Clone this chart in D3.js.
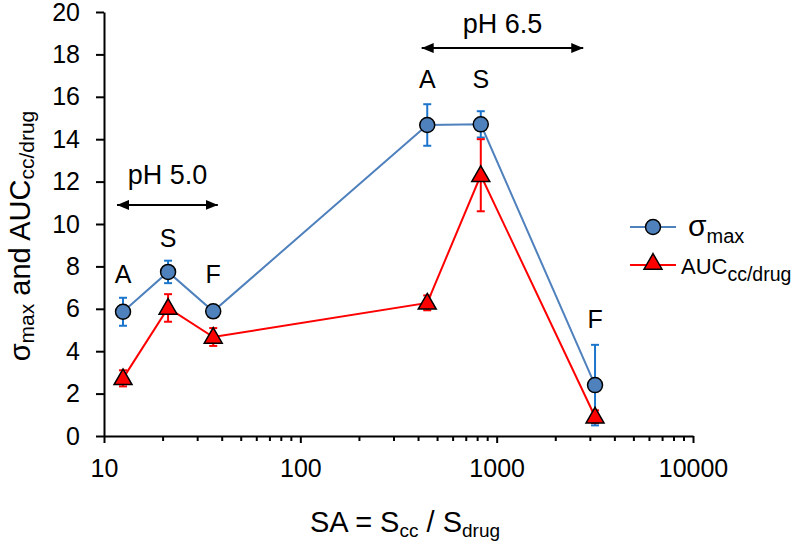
<!DOCTYPE html>
<html>
<head>
<meta charset="utf-8">
<script src="https://cdn.jsdelivr.net/npm/d3@7"></script>
<style>
  body { margin: 0; background: #fff; }
  text { font-family: "Liberation Sans", Arial, sans-serif; fill: #000; }
</style>
</head>
<body>
<div id="chart"></div>
<script>
// surface-area ratio (x) and the two measured series
const sa = [12.5, 21.2, 36, 443, 830, 3170];
const labels = ["A", "S", "F", "A", "S", "F"];
const sigmaMax = [5.86, 7.74, 5.88, 14.67, 14.7, 2.4];
const sigmaErr = [0.66, 0.53, 0, 0.98, 0.62, 1.9];
const auc = [2.72, 6.04, 4.67, 6.28, 12.3, 0.91];
const aucErr = [0.38, 0.65, 0.42, 0.35, 1.7, 0.3];
const yTicks = [0, 2, 4, 6, 8, 10, 12, 14, 16, 18, 20];
const xTicks = [10, 100, 1000, 10000];
const phRanges = [
  {label: "pH 5.0", from: 11.65, to: 38, y: 10.9, textY: 11.9},
  {label: "pH 6.5", from: 415, to: 2760, y: 18.3, textY: 19.0}
];

const width = 800, height = 552;
const blue = "#4F81BD", blueErr = "#1C75CC", red = "#FF0000";

const svg = d3.select("#chart").append("svg")
    .attr("width", width)
    .attr("height", height);

const x = d3.scaleLog().domain([10, 10000]).range([104, 693]);
const y = d3.scaleLinear().domain([0, 20]).range([436, 12]);

// arrow marker defs
const defs = svg.append("defs");
["start", "end"].forEach(function(k) {
    defs.append("marker")
        .attr("id", "arr-" + k)
        .attr("viewBox", "0 0 12 10")
        .attr("refX", k === "end" ? 12 : 0)
        .attr("refY", 5)
        .attr("markerWidth", 12)
        .attr("markerHeight", 10)
        .attr("markerUnits", "userSpaceOnUse")
        .attr("orient", "auto")
        .append("path")
        .attr("d", k === "end" ? "M0,0 L12,5 L0,10 Z" : "M12,0 L0,5 L12,10 Z")
        .attr("fill", "#000");
});

// y axis
const yAxis = svg.append("g")
    .attr("transform", "translate(104,0)")
    .call(d3.axisLeft(y).tickValues(yTicks).tickSize(8).tickPadding(16).tickSizeOuter(0));
yAxis.selectAll("text").style("font-size", "25px");

// x axis, with minor ticks
const xAxis = svg.append("g")
    .attr("transform", "translate(0,436)")
    .call(d3.axisBottom(x).tickValues(xTicks).tickFormat(d3.format("d"))
        .tickSize(7).tickPadding(16).tickSizeOuter(0));
xAxis.selectAll("text").style("font-size", "25px");
const minor = [];
[10, 100, 1000].forEach(function(d) {
    for (let i = 2; i <= 9; i++) minor.push(d * i);
});
xAxis.selectAll(".minor").data(minor).enter().append("line")
    .attr("class", "minor")
    .attr("x1", d => x(d)).attr("x2", d => x(d))
    .attr("y1", 0).attr("y2", 5)
    .attr("stroke", "#000");
svg.selectAll(".domain, .tick line, .minor").attr("stroke-width", 2);

// series lines
const line = d3.line().x((d, i) => x(sa[i])).y(d => y(d));
svg.append("path").datum(sigmaMax)
    .attr("d", line).attr("fill", "none")
    .attr("stroke", blue).attr("stroke-width", 2);
svg.append("path").datum(auc)
    .attr("d", line).attr("fill", "none")
    .attr("stroke", red).attr("stroke-width", 2);

function errorBars(vals, errs, color) {
    const g = svg.append("g").attr("stroke", color).attr("stroke-width", 2);
    vals.forEach(function(v, i) {
        if (!errs[i]) return;
        const cx = x(sa[i]);
        g.append("line").attr("x1", cx).attr("x2", cx)
            .attr("y1", y(v - errs[i])).attr("y2", y(v + errs[i]));
        [v - errs[i], v + errs[i]].forEach(function(e) {
            g.append("line").attr("x1", cx - 4).attr("x2", cx + 4)
                .attr("y1", y(e)).attr("y2", y(e));
        });
    });
}
errorBars(sigmaMax, sigmaErr, blueErr);
errorBars(auc, aucErr, red);

// markers
svg.selectAll(".circ").data(sigmaMax).enter().append("circle")
    .attr("cx", (d, i) => x(sa[i])).attr("cy", d => y(d))
    .attr("r", 7.5)
    .attr("fill", blue).attr("stroke", "#000").attr("stroke-width", 1.5);

const tri = d3.symbol().type(d3.symbolTriangle).size(140);
svg.selectAll(".tri").data(auc).enter().append("path")
    .attr("d", tri)
    .attr("transform", (d, i) => "translate(" + x(sa[i]) + "," + (y(d) + 1) + ")")
    .attr("fill", red).attr("stroke", "#000").attr("stroke-width", 1.5);

// point letters
const letterY = [7.22, 8.92, 7.22, 16.42, 16.42, 5.09];
svg.selectAll(".lab").data(labels).enter().append("text")
    .attr("x", (d, i) => x(sa[i]))
    .attr("y", (d, i) => y(letterY[i]))
    .attr("text-anchor", "middle")
    .style("font-size", "25px")
    .text(d => d);

// pH range arrows
phRanges.forEach(function(r) {
    svg.append("line")
        .attr("x1", x(r.from)).attr("x2", x(r.to))
        .attr("y1", y(r.y)).attr("y2", y(r.y))
        .attr("stroke", "#000").attr("stroke-width", 2)
        .attr("marker-start", "url(#arr-start)")
        .attr("marker-end", "url(#arr-end)");
    svg.append("text")
        .attr("x", (x(r.from) + x(r.to)) / 2)
        .attr("y", y(r.textY))
        .attr("text-anchor", "middle")
        .style("font-size", "27px")
        .text(r.label);
});

// legend
const legend = svg.append("g");
legend.append("line").attr("x1", 630).attr("x2", 676).attr("y1", 227).attr("y2", 227)
    .attr("stroke", blue).attr("stroke-width", 2);
legend.append("circle").attr("cx", 653).attr("cy", 227).attr("r", 7.5)
    .attr("fill", blue).attr("stroke", "#000").attr("stroke-width", 1.5);
const l1 = legend.append("text").attr("x", 688).attr("y", 236).style("font-size", "30px");
l1.append("tspan").text("σ");
l1.append("tspan").attr("dy", 7).style("font-size", "20px").text("max");

legend.append("line").attr("x1", 630).attr("x2", 676).attr("y1", 265).attr("y2", 265)
    .attr("stroke", red).attr("stroke-width", 2);
legend.append("path").attr("d", tri)
    .attr("transform", "translate(653,264)")
    .attr("fill", red).attr("stroke", "#000").attr("stroke-width", 1.5);
const l2 = legend.append("text").attr("x", 681).attr("y", 274).style("font-size", "22px");
l2.append("tspan").text("AUC");
l2.append("tspan").attr("dy", 7).style("font-size", "19.5px").text("cc/drug");

// axis titles
const yt = svg.append("text")
    .attr("transform", "translate(30,236) rotate(-90)")
    .attr("text-anchor", "middle")
    .style("font-size", "29px");
yt.append("tspan").text("σ");
yt.append("tspan").attr("dy", 4).style("font-size", "21px").text("max");
yt.append("tspan").attr("dy", -4).text(" and AUC");
yt.append("tspan").attr("dy", 4).style("font-size", "21px").text("cc/drug");

const xt = svg.append("text")
    .attr("x", 405).attr("y", 532)
    .attr("text-anchor", "middle")
    .style("font-size", "29px");
xt.append("tspan").text("SA = S");
xt.append("tspan").attr("dy", 5).style("font-size", "19px").text("cc");
xt.append("tspan").attr("dy", -5).text(" / S");
xt.append("tspan").attr("dy", 5).style("font-size", "19px").text("drug");
</script>
</body>
</html>
